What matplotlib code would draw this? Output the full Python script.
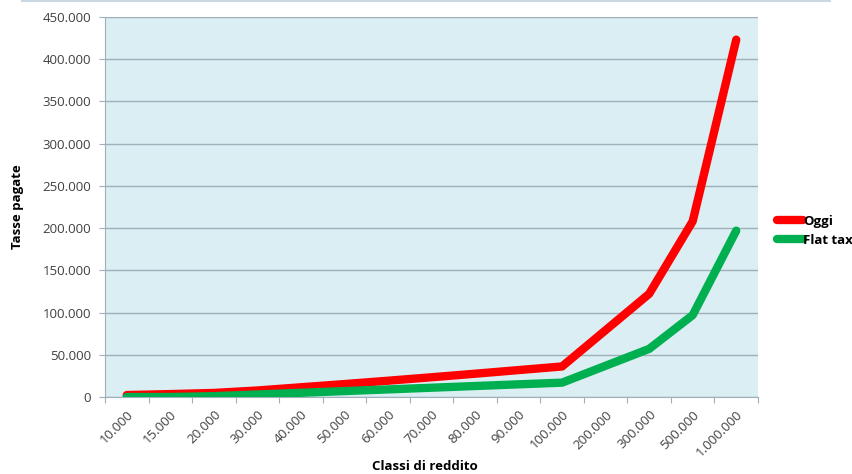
import matplotlib.pyplot as plt
from matplotlib.ticker import FuncFormatter, FixedLocator
from matplotlib.lines import Line2D

# Income classes and the taxes paid in each
classi = ["10.000", "15.000", "20.000", "30.000", "40.000", "50.000", "60.000",
          "70.000", "80.000", "90.000", "100.000", "200.000", "300.000",
          "500.000", "1.000.000"]
oggi = [2300, 3450, 4800, 7720, 11520, 15320, 19270, 23370, 27570, 31870,
        36170, 79170, 122170, 208170, 423170]
flat_tax = [0, 0, 1000, 3000, 5000, 7000, 9000, 11000, 13000, 15000,
            17000, 37000, 57000, 97000, 197000]

plt.rcParams['font.family'] = ['Open Sans', 'DejaVu Sans']

W, H = 852, 474
fig = plt.figure(figsize=(W / 100, H / 100), dpi=100)
ax = fig.add_axes([105 / W, 1 - 397 / H, 653 / W, 380 / H])
ax.set_facecolor('#DBEEF4')

x = list(range(len(classi)))
ax.plot(x, oggi, color='#FF0000', lw=6, solid_capstyle='round',
        solid_joinstyle='round', zorder=3)
ax.plot(x, flat_tax, color='#00B050', lw=6, solid_capstyle='round',
        solid_joinstyle='round', zorder=3)

ax.set_xlim(-0.5, len(classi) - 0.5)
ax.set_ylim(0, 450000)
ax.set_yticks(range(0, 450001, 50000))
ax.yaxis.set_major_formatter(FuncFormatter(lambda v, p: f"{int(v):,}".replace(",", ".")))
ax.grid(axis='y', color='#9FB0B8', lw=1, zorder=1)
ax.set_axisbelow(True)

# tick marks between categories, labels at the centres
ax.xaxis.set_major_locator(FixedLocator([i - 0.5 for i in range(len(classi) + 1)]))
ax.xaxis.set_major_formatter(FuncFormatter(lambda v, p: ""))
ax.set_xticks(x, minor=True)
ax.set_xticklabels(classi, minor=True, rotation=45, ha='right',
                   rotation_mode='anchor', fontsize=9.5, color='#404040')
ax.tick_params(axis='x', which='major', length=4, color='#9FB0B8')
ax.tick_params(axis='x', which='minor', length=0, pad=8)
ax.tick_params(axis='y', length=4, color='#9FB0B8', labelsize=9.5,
               labelcolor='#404040', pad=6)

for s in ['top', 'right']:
    ax.spines[s].set_visible(False)
for s in ['left', 'bottom']:
    ax.spines[s].set_color('#9FB0B8')

fig.text(18 / W, 1 - 207 / H, 'Tasse pagate', rotation=90, ha='center',
         va='center', fontsize=9.5, fontweight='bold')
fig.text(425 / W, 1 - 466 / H, 'Classi di reddito', ha='center',
         va='center', fontsize=9.5, fontweight='bold')

handles = [Line2D([], [], color='#FF0000', lw=6, solid_capstyle='round'),
           Line2D([], [], color='#00B050', lw=6, solid_capstyle='round')]
fig.legend(handles, ['Oggi', 'Flat tax'], loc='center left',
           bbox_to_anchor=(765 / W, 1 - 231 / H), frameon=False,
           handlelength=2.0, handletextpad=0.0, labelspacing=0.45,
           prop={'weight': 'bold', 'size': 9.5})

# border of the frame above
fig.add_artist(Line2D([22 / W, 830 / W], [0.998, 0.998],
                      color='#C9D8E2', lw=1.5, transform=fig.transFigure))

fig.savefig('out.png', dpi=100)
